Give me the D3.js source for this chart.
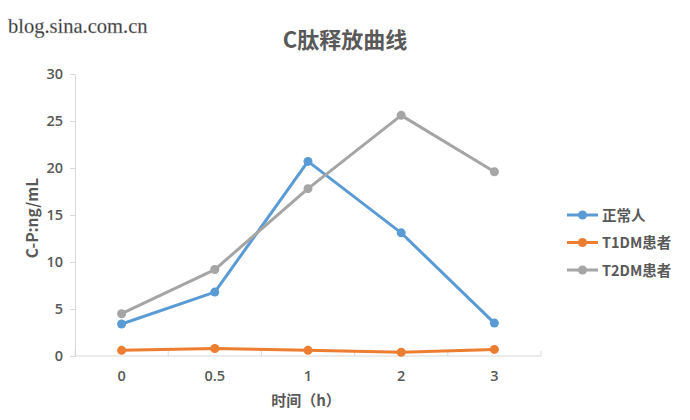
<!DOCTYPE html>
<html>
<head>
<meta charset="utf-8">
<script src="https://cdn.jsdelivr.net/npm/d3@7"></script>
<style>
  body { margin: 0; background: #fff; }
  text { font-family: "Noto Sans CJK SC", "Noto Sans", sans-serif; }
</style>
</head>
<body>
<svg id="chart" width="690" height="420"></svg>
<script>
// data
var times = ['0', '0.5', '1', '2', '3'];
var normal = [3.4, 6.8, 20.7, 13.1, 3.5];
var t1dm = [0.6, 0.8, 0.6, 0.4, 0.7];
var t2dm = [4.5, 9.2, 17.8, 25.6, 19.6];
var seriesNames = ['正常人', 'T1DM患者', 'T2DM患者'];
var yTicks = [0, 5, 10, 15, 20, 25, 30];

var colors = ['#5b9bd5', '#ed7d31', '#a5a5a5'];
var series = [normal, t1dm, t2dm];

var svg = d3.select('#chart');

var xScale = d3.scaleBand()
  .domain(times)
  .range([75, 541]);

var yScale = d3.scaleLinear()
  .domain([0, 30])
  .range([356, 74]);

// watermark
svg.append('text')
  .attr('x', 8)
  .attr('y', 33)
  .style('font-family', '"Liberation Serif", serif')
  .attr('font-size', 20.5)
  .attr('fill', '#2a2a2a')
  .attr('stroke', '#aaa')
  .attr('stroke-width', 0.4)
  .text('blog.sina.com.cn');

// title
svg.append('text')
  .attr('x', 345)
  .attr('y', 48)
  .attr('text-anchor', 'middle')
  .attr('font-size', 22)
  .attr('font-weight', 'bold')
  .attr('fill', '#595959')
  .text('C肽释放曲线');

// y axis
var yAxis = svg.append('g')
  .attr('transform', 'translate(75,0)')
  .call(d3.axisLeft(yScale).tickValues(yTicks).tickSize(5).tickPadding(7));
yAxis.select('.domain').attr('stroke', '#d9d9d9');
yAxis.selectAll('.tick line').attr('stroke', '#d9d9d9');
yAxis.selectAll('.tick text')
  .attr('fill', '#595959')
  .attr('font-size', 14.5)
  .attr('font-weight', 600)
  .style('font-family', '"Open Sans", sans-serif');

// x axis (ticks between categories, pointing up)
var xAxis = svg.append('g')
  .attr('transform', 'translate(0,356)');
xAxis.append('line')
  .attr('x1', xScale.range()[0])
  .attr('x2', xScale.range()[1])
  .attr('stroke', '#d9d9d9');
xAxis.selectAll('.sep')
  .data(times.concat(['end']))
  .enter().append('line')
  .attr('x1', function(d, i){ return 75 + i * xScale.bandwidth(); })
  .attr('x2', function(d, i){ return 75 + i * xScale.bandwidth(); })
  .attr('y1', 0)
  .attr('y2', -5)
  .attr('stroke', '#d9d9d9');
xAxis.selectAll('.lbl')
  .data(times)
  .enter().append('text')
  .attr('x', function(d){ return xScale(d) + xScale.bandwidth() / 2; })
  .attr('y', 25)
  .attr('text-anchor', 'middle')
  .attr('font-size', 14.5)
  .attr('font-weight', 600)
  .attr('fill', '#595959')
  .style('font-family', '"Open Sans", sans-serif')
  .text(function(d){ return d; });

// axis titles
svg.append('text')
  .attr('transform', 'translate(38,218) rotate(-90)')
  .attr('text-anchor', 'middle')
  .attr('font-size', 15.5)
  .attr('font-weight', 'bold')
  .attr('fill', '#595959')
  .text('C-P:ng/mL');

svg.append('text')
  .attr('x', 306)
  .attr('y', 406)
  .attr('text-anchor', 'middle')
  .attr('font-size', 15)
  .attr('font-weight', 'bold')
  .attr('fill', '#595959')
  .text('时间（h）');

// lines
var lineGen = d3.line()
  .x(function(d, i){ return xScale(times[i]) + xScale.bandwidth() / 2; })
  .y(function(d){ return yScale(d); });

series.forEach(function(s, k){
  var g = svg.append('g');
  g.append('path')
    .datum(s)
    .attr('fill', 'none')
    .attr('stroke', colors[k])
    .attr('stroke-width', 3)
    .attr('stroke-linejoin', 'round')
    .attr('d', lineGen);
  g.selectAll('circle')
    .data(s)
    .enter().append('circle')
    .attr('cx', function(d, i){ return xScale(times[i]) + xScale.bandwidth() / 2; })
    .attr('cy', function(d){ return yScale(d); })
    .attr('r', 4.5)
    .attr('fill', colors[k]);
});

// legend
var legend = svg.append('g').attr('transform', 'translate(567,215)');
seriesNames.forEach(function(name, k){
  var row = legend.append('g').attr('transform', 'translate(0,' + (k * 27.5) + ')');
  row.append('line')
    .attr('x1', 0).attr('x2', 31)
    .attr('stroke', colors[k])
    .attr('stroke-width', 3);
  row.append('circle')
    .attr('cx', 15.5)
    .attr('r', 4.5)
    .attr('fill', colors[k]);
  row.append('text')
    .attr('x', 35)
    .attr('y', 5.5)
    .attr('font-size', 14.5)
    .attr('font-weight', 'bold')
    .attr('fill', '#595959')
    .text(name);
});
</script>
</body>
</html>
